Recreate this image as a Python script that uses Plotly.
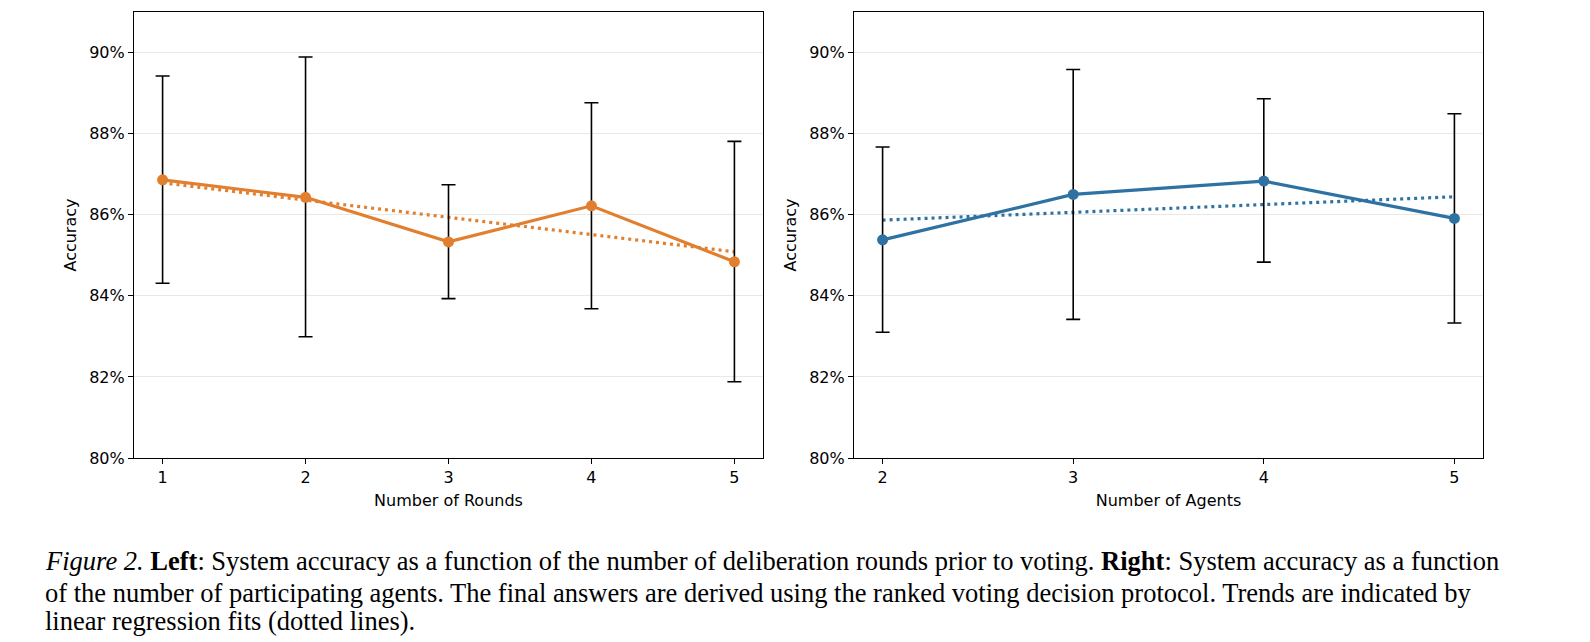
import numpy as np
import plotly.graph_objects as go

# ---- data ----
rounds = [1, 2, 3, 4, 5]
rounds_acc = [86.86, 86.43, 85.33, 86.22, 84.84]
rounds_hi = [89.42, 89.89, 86.74, 88.76, 87.81]
rounds_lo = [84.31, 82.99, 83.93, 83.68, 81.88]

agents = [2, 3, 4, 5]
agents_acc = [85.38, 86.50, 86.83, 85.91]
agents_hi = [87.67, 89.58, 88.86, 88.49]
agents_lo = [83.10, 83.42, 84.83, 83.33]

y_ticks = [80, 82, 84, 86, 88, 90]
y_tick_labels = ["80%", "82%", "84%", "86%", "88%", "90%"]

ORANGE = "#E17F2E"
BLUE = "#2E72A3"

W, H = 1590, 642

fig = go.Figure()


def add_panel(x, acc, hi, lo, color, xa, ya):
    x = np.array(x, dtype=float)
    acc = np.array(acc)
    hi = np.array(hi)
    lo = np.array(lo)
    # linear regression trend
    k, b = np.polyfit(x, acc, 1)
    fig.add_trace(go.Scatter(
        x=x, y=k * x + b, mode="lines", xaxis=xa, yaxis=ya,
        line=dict(color=color, width=3.2, dash="3px,4px"),
        showlegend=False, hoverinfo="skip"))
    fig.add_trace(go.Scatter(
        x=x, y=acc, mode="lines+markers", xaxis=xa, yaxis=ya,
        line=dict(color=color, width=3.2),
        marker=dict(color=color, size=11),
        error_y=dict(type="data", symmetric=False,
                     array=hi - acc, arrayminus=acc - lo,
                     color="black", thickness=1.6, width=7),
        showlegend=False))


add_panel(rounds, rounds_acc, rounds_hi, rounds_lo, ORANGE, "x", "y")
add_panel(agents, agents_acc, agents_hi, agents_lo, BLUE, "x2", "y2")

ydom = [1 - 458 / H, 1 - 12 / H]
axis_font = dict(family="DejaVu Sans", size=16, color="black")

common_x = dict(showgrid=False, zeroline=False, showline=True, mirror=True,
                linecolor="black", linewidth=1.2, ticks="outside", ticklen=5,
                tickcolor="black", tickwidth=1.2, tickfont=axis_font,
                automargin=False)
common_y = dict(showgrid=True, gridcolor="#E8E8E8", gridwidth=1.2, zeroline=False,
                showline=True, mirror=True, linecolor="black", linewidth=1.2,
                ticks="outside", ticklen=5, tickcolor="black", tickwidth=1.2,
                tickfont=axis_font, range=[80, 91], tickvals=y_ticks,
                ticktext=y_tick_labels, automargin=False, domain=ydom)

fig.update_layout(
    width=W, height=H,
    margin=dict(l=0, r=0, t=0, b=0),
    paper_bgcolor="white", plot_bgcolor="white",
    xaxis=dict(common_x, domain=[134 / W, 763 / W], range=[0.8, 5.2],
               tickvals=rounds, anchor="y",
               title=dict(text="Number of Rounds", font=axis_font, standoff=8)),
    yaxis=dict(common_y, anchor="x",
               title=dict(text="Accuracy", font=axis_font, standoff=8)),
    xaxis2=dict(common_x, domain=[854 / W, 1483 / W], range=[1.85, 5.15],
                tickvals=agents, anchor="y2",
                title=dict(text="Number of Agents", font=axis_font, standoff=8)),
    yaxis2=dict(common_y, anchor="x2",
                title=dict(text="Accuracy", font=axis_font, standoff=8)),
)

cap_font = dict(family="Liberation Serif", size=26.5, color="black")
caption = [
    "<i>Figure 2.</i> <b>Left</b>: System accuracy as a function of the number of deliberation rounds prior to voting. <b>Right</b>: System accuracy as a function",
    "of the number of participating agents. The final answers are derived using the ranked voting decision protocol. Trends are indicated by",
    "linear regression fits (dotted lines).",
]
cap_y = [561, 593, 621]
for txt, yy in zip(caption, cap_y):
    fig.add_annotation(text=txt, xref="paper", yref="paper", x=43 / W,
                       y=1 - yy / H, xanchor="left", yanchor="middle",
                       showarrow=False, font=cap_font, align="left")

fig.write_html("out.html")
